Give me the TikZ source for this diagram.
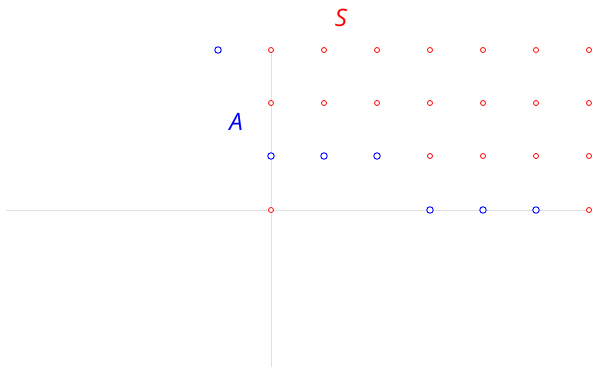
\documentclass[tikz,border=0pt]{standalone}
\usepackage{fontspec}
\setmainfont{Open Sans}
\begin{document}
\begin{tikzpicture}[x=1pt,y=-1pt,
  axis/.style={draw=black!12,line width=1pt},
  rpt/.style={circle,draw=red,line width=0.8pt,inner sep=0pt,minimum size=5pt,fill=white},
  bpt/.style={circle,draw=blue,line width=0.9pt,inner sep=0pt,minimum size=6.5pt,fill=white},
  lbl/.style={font=\itshape\fontsize{24}{24}\selectfont,inner sep=0pt,anchor=center}]
\useasboundingbox (0,0) rectangle (592,367);
\coordinate (xl) at (6,210);
\coordinate (xr) at (589,210);
\coordinate (yt) at (271,50);
\coordinate (yb) at (271,367);
\draw[axis] (xl) -- (xr);
\draw[axis] (yb) -- (yt);
% row 1
\node[bpt] (p11) at (218,50) {};
\foreach \x [count=\i] in {271,324,377,430,483,536,589}
  \node[rpt] (r1\i) at (\x,50) {};
% row 2
\foreach \x [count=\i] in {271,324,377,430,483,536,589}
  \node[rpt] (r2\i) at (\x,103) {};
% row 3
\foreach \x [count=\i] in {271,324,377}
  \node[bpt] (b3\i) at (\x,156) {};
\foreach \x [count=\i] in {430,483,536,589}
  \node[rpt] (r3\i) at (\x,156) {};
% row 4
\node[rpt] (r40) at (271,210) {};
\foreach \x [count=\i] in {430,483,536}
  \node[bpt] (b4\i) at (\x,210) {};
\node[rpt] (r44) at (589,210) {};
\node[lbl,text=red] (S) at (341,18) {S};
\node[lbl,text=blue] (A) at (236,122) {A};
\end{tikzpicture}
\end{document}
